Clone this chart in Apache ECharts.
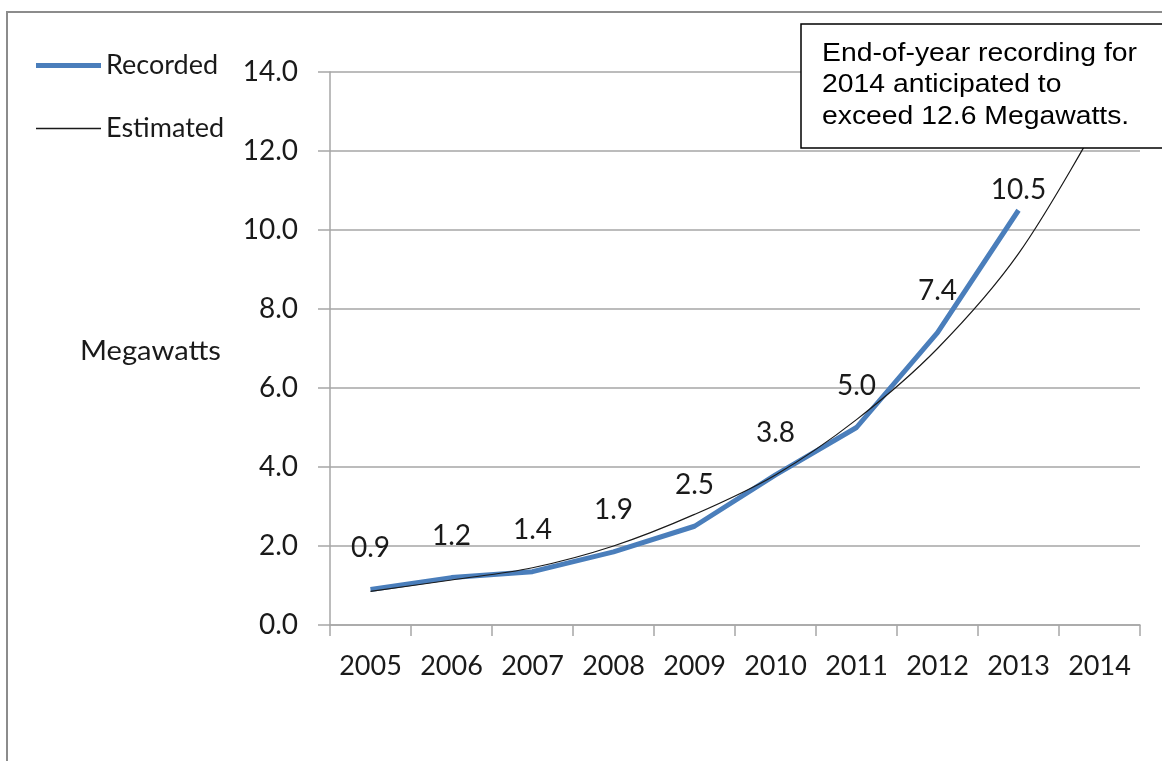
<!DOCTYPE html>
<html>
<head>
<meta charset="utf-8">
<script src="https://cdn.jsdelivr.net/npm/echarts@6/dist/echarts.min.js"></script>
<style>
html,body{margin:0;padding:0;background:#fff;}
#c{width:1162px;height:761px;}
</style>
</head>
<body>
<div id="c"></div>
<script>
var years = ['2005','2006','2007','2008','2009','2010','2011','2012','2013','2014'];
var recorded = [0.9, 1.2, 1.35, 1.85, 2.5, 3.8, 5.0, 7.4, 10.5, null];
var recordedLabels = ['0.9','1.2','1.4','1.9','2.5','3.8','5.0','7.4','10.5',''];
var estimated = [0.85, 1.14, 1.45, 2.0, 2.8, 3.8, 5.2, 7.0, 9.4, 12.8];
var yTicks = {min: 0, max: 14, interval: 2};
var noteLines = ['End-of-year recording for', '2014 anticipated to', 'exceed 12.6 Megawatts.'];

var chart = echarts.init(document.getElementById('c'));
var calibri = 'Lato, "Open Sans", sans-serif';
var blue = '#4a7ebb';
// the last recorded label sits closer to its point in the reference
var recordedData = recorded.map(function (v, i) {
  return i === 8 ? {value: v, label: {distance: 6, offset: [-9, 0]}} : v;
});
chart.setOption({
  animation: false,
  backgroundColor: '#fff',
  grid: {left: 330, right: 22, top: 72, bottom: 136},
  legend: {
    orient: 'vertical', left: 36, top: 52, padding: 0, itemGap: 36, itemWidth: 65, itemHeight: 26,
    textStyle: {fontFamily: calibri, fontSize: 27, color: '#1a1a1a'},
    data: [
      {name: 'Recorded', icon: 'path://M0,0H65V5H0Z', itemStyle: {color: blue}},
      {name: 'Estimated', icon: 'path://M0,0H65V1.4H0Z', itemStyle: {color: '#1a1a1a'}}
    ]
  },
  xAxis: {
    type: 'category', data: years, boundaryGap: true,
    axisLine: {lineStyle: {color: '#a6a6a6', width: 1.5}},
    axisTick: {show: true, interval: 0, length: 11, alignWithLabel: false, lineStyle: {color: '#a6a6a6', width: 1.5}},
    axisLabel: {interval: 0, fontFamily: calibri, fontSize: 27, color: '#1a1a1a', margin: 28}
  },
  yAxis: {
    type: 'value', min: yTicks.min, max: yTicks.max, interval: yTicks.interval,
    axisLine: {show: true, lineStyle: {color: '#a6a6a6', width: 1.5}},
    axisTick: {show: true, inside: false, length: 12, lineStyle: {color: '#a6a6a6', width: 1.5}},
    splitLine: {lineStyle: {color: '#a6a6a6', width: 1.5}},
    axisLabel: {fontFamily: calibri, fontSize: 28, color: '#1a1a1a', margin: 32,
      formatter: function (v) { return v.toFixed(1); }}
  },
  series: [
    {
      name: 'Estimated', type: 'line', data: estimated, smooth: 0.35,
      symbol: 'none', z: 3,
      lineStyle: {color: '#1a1a1a', width: 1.2},
      itemStyle: {color: '#1a1a1a'}
    },
    {
      name: 'Recorded', type: 'line', data: recordedData, z: 2,
      symbol: 'circle', symbolSize: 1, showSymbol: true,
      lineStyle: {color: blue, width: 5},
      itemStyle: {color: 'rgba(0,0,0,0)'},
      label: {
        show: true, position: 'top', distance: 27,
        fontFamily: calibri, fontSize: 28, color: '#1a1a1a',
        formatter: function (p) { return recordedLabels[p.dataIndex]; }
      },
      labelLayout: {hideOverlap: false}
    }
  ],
  graphic: [
    {type: 'rect', shape: {x: 7, y: 12, width: 1300, height: 900},
     style: {fill: 'none', stroke: '#8c8c8c', lineWidth: 2}, z: 0, silent: true},
    {type: 'text', x: 80, y: 352, scaleX: 1.12,
     style: {text: 'Megawatts', font: '26px ' + calibri, fill: '#1a1a1a', textAlign: 'left', textVerticalAlign: 'middle'}},
    {type: 'rect', shape: {x: 801, y: 24, width: 400, height: 124},
     style: {fill: '#fff', stroke: '#000', lineWidth: 1.5}, z: 100},
    {type: 'text', x: 822, y: 38, z: 101, scaleX: 1.09,
     style: {text: noteLines.join('\n'), font: '26px "Liberation Sans", Arial, sans-serif', fill: '#000', lineHeight: 31.5}}
  ]
});
</script>
</body>
</html>
